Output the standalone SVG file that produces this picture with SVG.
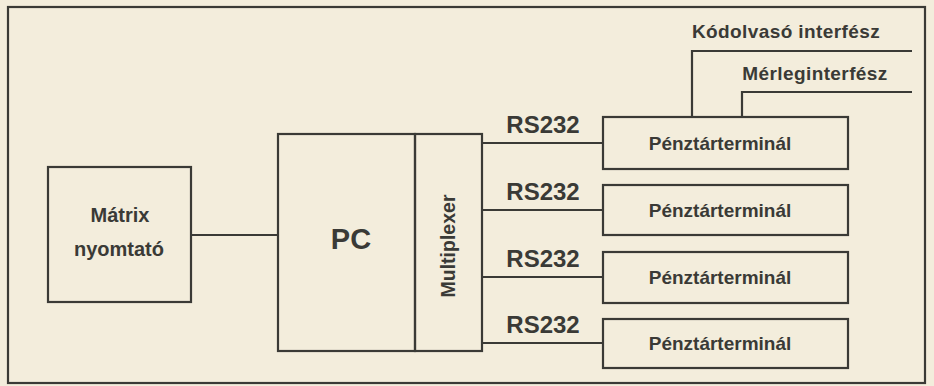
<svg xmlns="http://www.w3.org/2000/svg" width="934" height="386" viewBox="0 0 934 386">
<style>
.b{fill:none;stroke:#3a3a36;stroke-width:2.2}
.l{fill:none;stroke:#3a3a36;stroke-width:2.2}
text{font-family:"Liberation Sans",Arial,sans-serif;font-weight:bold;fill:#3a3a36}
.t{font-size:19px;text-anchor:middle}
.rs{font-size:24px;text-anchor:middle}
</style>
<rect x="0" y="0" width="934" height="386" fill="#f3eddc"/>
<rect class="b" x="8" y="7" width="917" height="376"/>
<g id="matrix">
<rect class="b" x="48" y="167" width="143" height="135"/>
<text class="t" x="120" y="222" font-size="20" style="font-size:20px">Mátrix</text>
<text class="t" x="119" y="256" style="font-size:20px">nyomtató</text>
</g>
<g id="pc">
<rect class="b" x="278" y="134" width="137" height="217"/>
<text x="351" y="249" style="font-size:29px" text-anchor="middle">PC</text>
</g>
<g id="multiplexer">
<rect class="b" x="415" y="134" width="67" height="217"/>
<text transform="translate(455,246) rotate(-90)" text-anchor="middle" style="font-size:19.5px">Multiplexer</text>
</g>
<g id="term1">
<rect class="b" x="603" y="117" width="245" height="52"/>
<text class="t" x="720" y="150">Pénztárterminál</text>
</g>
<g id="term2">
<rect class="b" x="603" y="185" width="245" height="50"/>
<text class="t" x="720" y="217">Pénztárterminál</text>
</g>
<g id="term3">
<rect class="b" x="603" y="252" width="245" height="51"/>
<text class="t" x="720" y="284">Pénztárterminál</text>
</g>
<g id="term4">
<rect class="b" x="603" y="319" width="245" height="49"/>
<text class="t" x="720" y="350">Pénztárterminál</text>
</g>
<g id="connectors">
<path class="l" d="M191 235H278"/>
<path class="l" d="M482 143H603M482 210H603M482 277H603M482 343H603"/>
<path class="l" d="M692 117V51H912"/>
<path class="l" d="M742 117V92H912"/>
</g>
<g id="labels">
<text class="rs" x="543" y="133">RS232</text>
<text class="rs" x="543" y="200">RS232</text>
<text class="rs" x="543" y="267">RS232</text>
<text class="rs" x="543" y="333">RS232</text>
<text x="786" y="38" text-anchor="middle" style="font-size:19px;letter-spacing:0.4px">Kódolvasó interfész</text>
<text x="815" y="80" text-anchor="middle" style="font-size:19px;letter-spacing:0.4px">Mérleginterfész</text>
</g>
</svg>
